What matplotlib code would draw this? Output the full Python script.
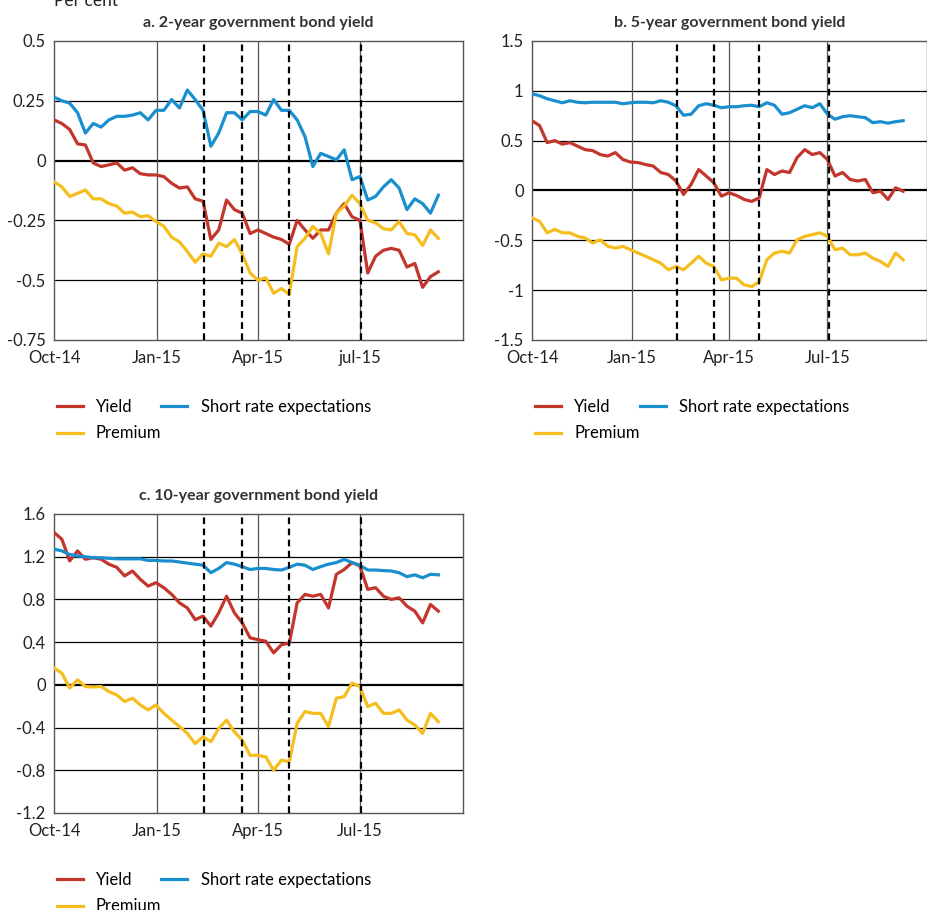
import matplotlib
matplotlib.use("Agg")
import matplotlib.pyplot as plt
import pandas as pd

plt.rcParams['font.family'] = ['Lato', 'DejaVu Sans']

# weekly observations, Oct 2014 - Sep 2015
dates = pd.date_range('2014-10-01', periods=50, freq='7D')

# a. 2-year
yield_2y = [0.17, 0.155, 0.13, 0.07, 0.065, -0.01, -0.025, -0.018, -0.01, -0.04,
            -0.03, -0.055, -0.06, -0.06, -0.067, -0.095, -0.115, -0.11, -0.16, -0.17,
            -0.33, -0.29, -0.165, -0.205, -0.22, -0.305, -0.29, -0.305, -0.32, -0.33,
            -0.35, -0.25, -0.29, -0.325, -0.29, -0.29, -0.22, -0.18, -0.235, -0.25,
            -0.47, -0.40, -0.375, -0.367, -0.375, -0.445, -0.43, -0.53, -0.485, -0.465]
short_2y = [0.265, 0.25, 0.24, 0.20, 0.115, 0.155, 0.14, 0.17, 0.185, 0.185,
            0.19, 0.20, 0.17, 0.21, 0.21, 0.255, 0.22, 0.295, 0.255, 0.21,
            0.06, 0.115, 0.20, 0.20, 0.17, 0.205, 0.205, 0.19, 0.255, 0.21,
            0.21, 0.17, 0.10, -0.025, 0.03, 0.017, 0.003, 0.045, -0.08, -0.067,
            -0.165, -0.15, -0.11, -0.08, -0.115, -0.205, -0.16, -0.18, -0.22, -0.145]
prem_2y = [-0.088, -0.11, -0.15, -0.137, -0.123, -0.16, -0.16, -0.18, -0.19, -0.22,
           -0.215, -0.235, -0.23, -0.255, -0.275, -0.32, -0.34, -0.38, -0.425, -0.39,
           -0.40, -0.345, -0.36, -0.33, -0.39, -0.47, -0.50, -0.49, -0.555, -0.535,
           -0.56, -0.36, -0.325, -0.275, -0.305, -0.39, -0.22, -0.19, -0.145, -0.18,
           -0.25, -0.26, -0.285, -0.29, -0.255, -0.305, -0.31, -0.355, -0.29, -0.325]

# b. 5-year
yield_5y = [0.70, 0.65, 0.48, 0.50, 0.465, 0.48, 0.445, 0.41, 0.40, 0.36,
            0.345, 0.38, 0.31, 0.285, 0.28, 0.26, 0.245, 0.18, 0.16, 0.095,
            -0.04, 0.06, 0.21, 0.145, 0.077, -0.057, -0.023, -0.05, -0.09, -0.11,
            -0.074, 0.21, 0.16, 0.195, 0.18, 0.33, 0.41, 0.36, 0.38, 0.31,
            0.145, 0.18, 0.11, 0.095, 0.11, -0.023, -0.007, -0.09, 0.027, -0.007]
short_5y = [0.97, 0.95, 0.92, 0.90, 0.88, 0.90, 0.885, 0.88, 0.885, 0.885,
            0.885, 0.885, 0.87, 0.88, 0.885, 0.885, 0.88, 0.90, 0.885, 0.85,
            0.755, 0.765, 0.85, 0.87, 0.855, 0.83, 0.84, 0.84, 0.85, 0.855,
            0.84, 0.88, 0.855, 0.765, 0.78, 0.815, 0.85, 0.83, 0.87, 0.765,
            0.715, 0.74, 0.75, 0.74, 0.73, 0.68, 0.69, 0.675, 0.69, 0.70]
prem_5y = [-0.275, -0.31, -0.425, -0.39, -0.425, -0.425, -0.46, -0.477, -0.527, -0.494,
           -0.56, -0.578, -0.56, -0.595, -0.628, -0.66, -0.695, -0.73, -0.796, -0.762,
           -0.796, -0.73, -0.66, -0.73, -0.762, -0.897, -0.88, -0.88, -0.947, -0.964,
           -0.914, -0.695, -0.628, -0.61, -0.628, -0.494, -0.46, -0.443, -0.425, -0.46,
           -0.595, -0.578, -0.645, -0.645, -0.628, -0.68, -0.712, -0.762, -0.628, -0.695]

# c. 10-year
yield_10y = [1.427, 1.364, 1.16, 1.254, 1.176, 1.19, 1.176, 1.13, 1.10, 1.02,
             1.066, 0.988, 0.925, 0.956, 0.91, 0.847, 0.768, 0.72, 0.61, 0.643,
             0.55, 0.674, 0.83, 0.674, 0.58, 0.44, 0.423, 0.408, 0.30, 0.376,
             0.39, 0.768, 0.847, 0.83, 0.847, 0.72, 1.035, 1.08, 1.145, 1.113,
             0.894, 0.91, 0.83, 0.80, 0.815, 0.737, 0.69, 0.58, 0.753, 0.69]
short_10y = [1.27, 1.255, 1.22, 1.207, 1.20, 1.19, 1.19, 1.185, 1.18, 1.18,
             1.18, 1.18, 1.165, 1.165, 1.16, 1.16, 1.15, 1.14, 1.13, 1.12,
             1.05, 1.09, 1.145, 1.13, 1.107, 1.08, 1.09, 1.09, 1.08, 1.075,
             1.10, 1.13, 1.12, 1.08, 1.107, 1.13, 1.145, 1.175, 1.145, 1.12,
             1.075, 1.075, 1.07, 1.066, 1.05, 1.013, 1.03, 1.003, 1.035, 1.03]
prem_10y = [0.157, 0.11, -0.03, 0.047, -0.016, -0.02, -0.016, -0.063, -0.094, -0.157,
            -0.125, -0.188, -0.235, -0.188, -0.267, -0.33, -0.39, -0.455, -0.55, -0.486,
            -0.533, -0.408, -0.33, -0.44, -0.517, -0.66, -0.66, -0.674, -0.80, -0.705,
            -0.72, -0.36, -0.25, -0.267, -0.267, -0.39, -0.125, -0.11, 0.016, -0.016,
            -0.204, -0.172, -0.267, -0.267, -0.235, -0.33, -0.376, -0.455, -0.267, -0.345]

# policy announcement dates (dashed lines)
events = ['2015-02-12', '2015-03-18', '2015-04-29', '2015-07-02']

RED = '#c2362c'
BLUE = '#1a8fd0'
YELLOW = '#f5be1e'

fig = plt.figure(figsize=(9.28, 9.10), dpi=100)

panels = [
    ([0.0582, 0.6264, 0.4407, 0.3286], 'a. 2-year government bond yield',
     yield_2y, short_2y, prem_2y, [0.5, 0.25, 0, -0.25, -0.5, -0.75],
     ['0.5', '0.25', '0', '-0.25', '-0.5', '-0.75'], 'jul-15'),
    ([0.5733, 0.6264, 0.4256, 0.3286], 'b. 5-year government bond yield',
     yield_5y, short_5y, prem_5y, [1.5, 1, 0.5, 0, -0.5, -1, -1.5],
     ['1.5', '1', '0.5', '0', '-0.5', '-1', '-1.5'], 'Jul-15'),
    ([0.0582, 0.1066, 0.4407, 0.3286], 'c. 10-year government bond yield',
     yield_10y, short_10y, prem_10y, [1.6, 1.2, 0.8, 0.4, 0, -0.4, -0.8, -1.2],
     ['1.6', '1.2', '0.8', '0.4', '0', '-0.4', '-0.8', '-1.2'], 'Jul-15'),
]

for rect, title, y_vals, s_vals, p_vals, yticks, ylabels, jul in panels:
    ax = fig.add_axes(rect)
    for t in yticks[1:-1]:
        ax.axhline(t, color='black', lw=1.6 if t == 0 else 0.9, zorder=1)
    for d in ['2015-01-01', '2015-04-01', '2015-07-01']:
        ax.axvline(pd.Timestamp(d), color='#555555', lw=0.9, zorder=1)
    for d in events:
        ax.axvline(pd.Timestamp(d), color='black', lw=1.6, ls=(0, (3, 2)), zorder=4)

    ax.plot(dates, y_vals, color=RED, lw=2.3, label='Yield', zorder=3)
    ax.plot(dates, p_vals, color=YELLOW, lw=2.3, label='Premium', zorder=3)
    ax.plot(dates, s_vals, color=BLUE, lw=2.3, label='Short rate expectations', zorder=3)

    ax.set_xlim(pd.Timestamp('2014-10-01'), pd.Timestamp('2015-10-01'))
    ax.set_ylim(yticks[-1], yticks[0])
    ax.set_yticks(yticks)
    ax.set_yticklabels(ylabels)
    ax.set_xticks([pd.Timestamp(d) for d in ['2014-10-01', '2015-01-01', '2015-04-01', '2015-07-01']])
    ax.set_xticklabels(['Oct-14', 'Jan-15', 'Apr-15', jul])
    ax.tick_params(length=0, labelsize=12, colors='#222222')
    ax.tick_params(axis='x', pad=7)
    ax.tick_params(axis='y', pad=6)
    for s in ax.spines.values():
        s.set_color('#555555')
        s.set_linewidth(1)
    ax.set_title(title, fontsize=11.5, fontweight='bold', pad=10, color='#333333')

    ax.legend(loc='upper left', bbox_to_anchor=(-0.03, -0.146), ncol=2, frameon=False,
              fontsize=12, handlelength=1.55, handletextpad=0.8, columnspacing=0.0,
              labelspacing=0.65)

fig.text(0.058, 0.999, 'Per cent', fontsize=12.5, va='center', color='#222222')

fig.savefig('out.png', dpi=100)
